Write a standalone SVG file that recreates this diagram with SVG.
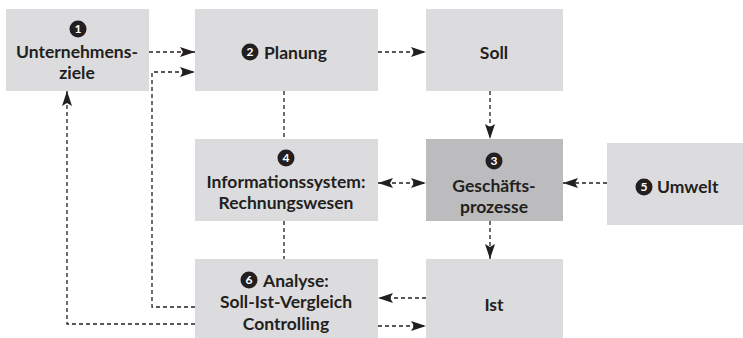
<svg xmlns="http://www.w3.org/2000/svg" width="743" height="338" viewBox="0 0 743 338">
<style>
.b{fill:#dcdcde}
.d{fill:#bcbcbe}
.t{font-family:Lato,"Open Sans",sans-serif;font-weight:700;font-size:17.5px;fill:#231f20;text-anchor:middle}
.l{text-anchor:start}
.n{font-family:Lato,"Open Sans",sans-serif;font-weight:700;font-size:12px;fill:#fff;text-anchor:middle}
.c{fill:#231f20}
.e{fill:none;stroke:#231f20;stroke-width:1.3;stroke-dasharray:4 3}
</style>
<defs>
<marker id="a" viewBox="0 0 15 10" refX="15" refY="5" markerWidth="15" markerHeight="10" markerUnits="userSpaceOnUse" orient="auto-start-reverse">
<path d="M0,0 L15,5 L0,10 L3,5 Z" fill="#231f20"/>
</marker>
</defs>
<g id="connectors">
<path class="e" d="M149,52 H195" marker-end="url(#a)"/>
<path class="e" d="M195,307 H152 V72 H195" marker-end="url(#a)"/>
<path class="e" d="M195,324 H67 V91" marker-end="url(#a)"/>
<path class="e" d="M284,91 V139"/>
<path class="e" d="M284,221 V259"/>
<path class="e" d="M378,52 H426" marker-end="url(#a)"/>
<path class="e" d="M490,91 V139" marker-end="url(#a)"/>
<path class="e" d="M378,183 H426" marker-start="url(#a)" marker-end="url(#a)"/>
<path class="e" d="M607,183 H563" marker-end="url(#a)"/>
<path class="e" d="M490,221 V259" marker-end="url(#a)"/>
<path class="e" d="M426,298 H378" marker-end="url(#a)"/>
<path class="e" d="M378,326 H426" marker-end="url(#a)"/>
</g>
<g id="n1">
<rect class="b" x="6" y="9" width="143" height="82"/>
<circle class="c" cx="78" cy="29" r="8.5"/><text class="n" x="78" y="33.2">1</text>
<text class="t" x="77" y="58">Unternehmens-</text>
<text class="t" x="77" y="79">ziele</text>
</g>
<g id="n2">
<rect class="b" x="195" y="9" width="183" height="82"/>
<circle class="c" cx="250" cy="52" r="8.5"/><text class="n" x="250" y="56.2">2</text>
<text class="t l" x="264" y="58.5">Planung</text>
</g>
<g id="nsoll">
<rect class="b" x="426" y="9" width="137" height="82"/>
<text class="t" x="494" y="59">Soll</text>
</g>
<g id="n4">
<rect class="b" x="195" y="139" width="183" height="82"/>
<circle class="c" cx="286" cy="158" r="8.5"/><text class="n" x="286" y="162.2">4</text>
<text class="t" x="286" y="188">Informationssystem:</text>
<text class="t" x="286" y="209">Rechnungswesen</text>
</g>
<g id="n3">
<rect class="d" x="426" y="139" width="137" height="82"/>
<circle class="c" cx="494" cy="161" r="8.5"/><text class="n" x="494" y="165.2">3</text>
<text class="t" x="494" y="192">Geschäfts-</text>
<text class="t" x="494" y="213">prozesse</text>
</g>
<g id="n5">
<rect class="b" x="607" y="143" width="136" height="82"/>
<circle class="c" cx="644" cy="187" r="8.5"/><text class="n" x="644" y="191.2">5</text>
<text class="t l" x="657" y="192.5">Umwelt</text>
</g>
<g id="n6">
<rect class="b" x="195" y="259" width="183" height="79"/>
<circle class="c" cx="249" cy="280" r="8.5"/><text class="n" x="249" y="284.2">6</text>
<text class="t l" x="263" y="287">Analyse:</text>
<text class="t" x="286" y="308">Soll-Ist-Vergleich</text>
<text class="t" x="286" y="330">Controlling</text>
</g>
<g id="nist">
<rect class="b" x="426" y="259" width="137" height="79"/>
<text class="t" x="494" y="311">Ist</text>
</g>
</svg>
